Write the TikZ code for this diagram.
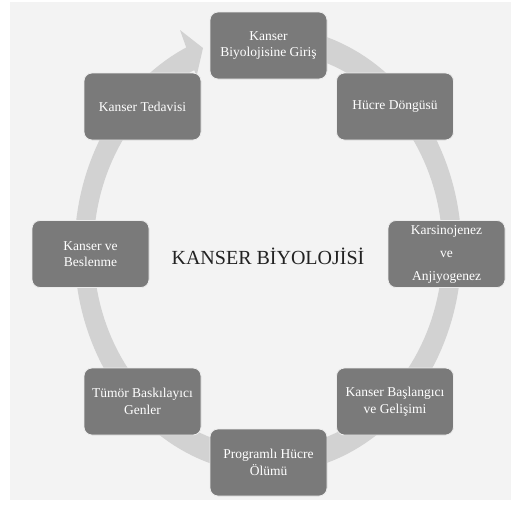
\documentclass[tikz,border=0pt]{standalone}
\usepackage{fontspec}
\setmainfont{Liberation Serif}
\definecolor{bggray}{HTML}{F3F3F3}
\definecolor{ringgray}{HTML}{D2D2D2}
\definecolor{boxgray}{HTML}{7A7A7A}
\definecolor{titlegray}{HTML}{222222}

\begin{document}
\begin{tikzpicture}[x=1pt, y=-1pt,
    box/.style={shape=rectangle, rounded corners=8pt, fill=boxgray, draw=white!85!gray, line width=0.8pt,
        minimum width=117pt, minimum height=67pt, inner sep=2pt, align=center, text=white,
        font=\fontsize{13.5}{16.5}\selectfont}]
    \useasboundingbox (0,0) rectangle (511,507);
    \fill[white] (0,0) rectangle (511,507);
    \fill[bggray] (10,2) rectangle (511,500);

    \fill[ringgray] plot[domain=-80:246, samples=160] ({268+193.5*cos(\x)},{250+223.5*sin(\x)})
        -- plot[domain=246:-80, samples=160] ({268+174.5*cos(\x)},{250+198.5*sin(\x)}) -- cycle;
    \fill[ringgray] (180,30) -- (203,48) -- (196.5,76.4) -- cycle;

    \node[box] (A) at (268.5,45.5) {Kanser\\Biyolojisine Giriş};
    \node[box] (B) at (395,106.5) {Hücre Döngüsü};
    \node[box, font=\fontsize{13.5}{23}\selectfont] (C) at (446.5,254) {Karsinojenez\\ve\\Anjiyogenez};
    \node[box] (D) at (395,401.5) {Kanser Başlangıcı\\ve Gelişimi};
    \node[box] (E) at (268.5,462.5) {Programlı Hücre\\Ölümü};
    \node[box] (F) at (142.5,401.5) {Tümör Baskılayıcı\\Genler};
    \node[box] (G) at (90.5,254) {Kanser ve\\Beslenme};
    \node[box] (H) at (142.5,106.5) {Kanser Tedavisi};

    \node[text=titlegray, font=\fontsize{20}{24}\selectfont] (T) at (268,256) {KANSER BİYOLOJİSİ};

\end{tikzpicture}
\end{document}
